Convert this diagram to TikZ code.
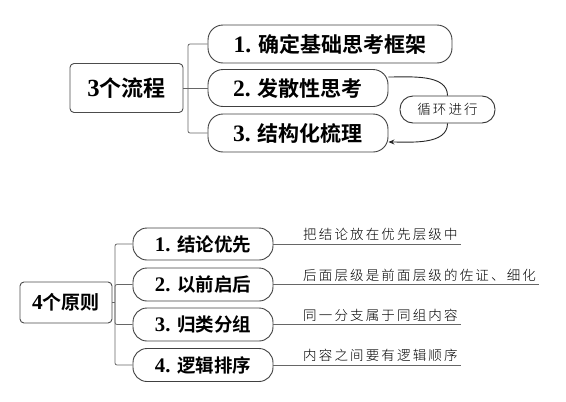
\documentclass[tikz,border=0pt]{standalone}
\usepackage{fontspec}
\setmainfont{Liberation Serif}
\newfontfamily\cjk{Noto Sans CJK SC}[BoldFont={Noto Sans CJK SC Bold}]
\newfontfamily\cjkl{Noto Sans CJK SC Light}[LetterSpace=16]
\usetikzlibrary{arrows.meta}
\newcommand{\numtxt}[2]{{\bfseries\scalebox{1.12}{#1}}\hspace{0.35em}{\cjk\bfseries #2}}
\begin{document}
\begin{tikzpicture}[x=1pt,y=-1pt,
  rootbox/.style={draw=black!70, line width=0.9pt, rounded corners=4pt, fill=white, inner sep=0pt, align=center},
  capsule/.style={draw=black!75, line width=0.9pt, rounded corners=15pt, fill=white, inner sep=0pt, align=center},
  smallcap/.style={draw=black!80, line width=0.9pt, rounded corners=13pt, fill=white, inner sep=0pt, align=center},
  conn/.style={draw=black!60, line width=0.8pt},
  note/.style={anchor=south west, inner xsep=3pt, inner ysep=3pt, font=\fontsize{13.5}{15}\cjkl}
]
\useasboundingbox (0,0) rectangle (566,402);
% ---------- top ----------
\node[rootbox, minimum width=113pt, minimum height=49pt, font=\fontsize{22}{24}\selectfont] (r1) at (126.5,88) {\numtxt{3}{\hspace{-0.35em}个流程}};
\node[capsule, minimum width=244pt, minimum height=38pt, font=\fontsize{21}{23}\selectfont] (a1) at (330,44) {\numtxt{1.}{确定基础思考框架}};
\node[capsule, minimum width=180pt, minimum height=37pt, font=\fontsize{21}{23}\selectfont] (a2) at (298,88) {\numtxt{2.}{发散性思考}};
\node[capsule, minimum width=180pt, minimum height=38pt, font=\fontsize{21}{23}\selectfont] (a3) at (298,133) {\numtxt{3.}{结构化梳理}};
\coordinate (ja) at (188,88);
\draw[conn] (r1.east) -- (ja);
\draw[conn, rounded corners=2pt] (ja) |- (a1.west);
\draw[conn] (ja) -- (a2.west);
\draw[conn, rounded corners=2pt] (ja) |- (a3.west);
\node[smallcap, minimum width=95pt, minimum height=27pt, font=\fontsize{13.5}{15}\cjkl] (lp) at (447.5,109.5) {循环进行};
\draw[black!85, line width=0.9pt] ([yshift=11pt]a2.east) to[out=0,in=90,looseness=0.9] (lp.north);
\draw[black!85, line width=0.9pt, -{Stealth[length=6pt,width=5pt]}] (lp.south) to[out=-90,in=0,looseness=0.9] ([yshift=-9pt]a3.east);
% ---------- bottom ----------
\node[rootbox, minimum width=92pt, minimum height=41pt, font=\fontsize{19}{21}\selectfont] (r2) at (66,302.5) {\numtxt{4}{\hspace{-0.35em}个原则}};
\node[capsule, rounded corners=14pt, minimum width=140pt, minimum height=32pt, font=\fontsize{18.5}{20}\selectfont] (b1) at (203,244) {\numtxt{1.}{结论优先}};
\node[capsule, rounded corners=14pt, minimum width=140pt, minimum height=33pt, font=\fontsize{18.5}{20}\selectfont] (b2) at (203,284.5) {\numtxt{2.}{以前启后}};
\node[capsule, rounded corners=14pt, minimum width=140pt, minimum height=33pt, font=\fontsize{18.5}{20}\selectfont] (b3) at (203,324.5) {\numtxt{3.}{归类分组}};
\node[capsule, rounded corners=14pt, minimum width=140pt, minimum height=33pt, font=\fontsize{18.5}{20}\selectfont] (b4) at (203,365) {\numtxt{4.}{逻辑排序}};
\coordinate (jb) at (115,302.5);
\draw[conn] (r2.east) -- (jb);
\draw[conn, rounded corners=2pt] (jb) |- (b1.west);
\draw[conn, rounded corners=2pt] (jb) |- (b2.west);
\draw[conn, rounded corners=2pt] (jb) |- (b3.west);
\draw[conn, rounded corners=2pt] (jb) |- (b4.west);
\node[note] (t1) at (300,244) {把结论放在优先层级中};
\node[note] (t2) at (300,284.5) {后面层级是前面层级的佐证、细化};
\node[note] (t3) at (300,324.5) {同一分支属于同组内容};
\node[note] (t4) at (300,365) {内容之间要有逻辑顺序};
\draw[conn] (b1.east) -- (t1.south east);
\draw[conn] (b2.east) -- (t2.south east);
\draw[conn] (b3.east) -- (t3.south east);
\draw[conn] (b4.east) -- (t4.south east);
\end{tikzpicture}
\end{document}
